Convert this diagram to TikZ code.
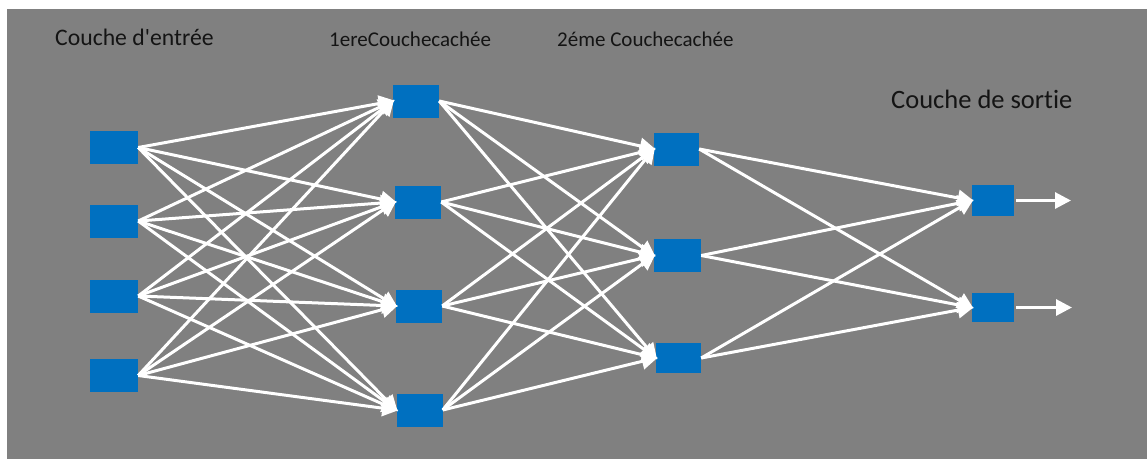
\documentclass[tikz,border=0pt]{standalone}
\usepackage{fontspec}
\setmainfont{Carlito}[Ligatures=NoCommon]
\usetikzlibrary{arrows.meta}
\definecolor{panelgray}{HTML}{808080}
\definecolor{neuronblue}{HTML}{0070C0}
\definecolor{labelink}{HTML}{141414}
\tikzset{
  neuron/.style={fill=neuronblue, draw=none, inner sep=0pt, minimum width=#1, minimum height=33},
  neuron/.default=46,
  link/.style={draw=white, line width=3, -{Triangle[length=16,width=16]}, shorten >=-2},
  layerlabel/.style={text=labelink, anchor=base west, inner sep=0pt},
}
\begin{document}
\begin{tikzpicture}[x=1pt, y=-1pt]
  \useasboundingbox (0,0) rectangle (1147,459);
  \fill[panelgray] (7,9) rectangle (1147,459);

  % layer titles
  \node[layerlabel, font=\fontsize{23.7}{26}\selectfont] (tIn) at (55,45.5) {Couche d\textquotesingle entrée};
  \node[layerlabel, font=\fontsize{21}{24}\selectfont] (tH1) at (329,46) {1ereCouchecachée};
  \node[layerlabel, font=\fontsize{21}{24}\selectfont] (tH2) at (557,46) {2éme Couchecachée};
  \node[layerlabel, font=\fontsize{26.5}{30}\selectfont] (tOut) at (891,108) {Couche de sortie};

  % input layer
  \node[neuron=48] (i1) at (114,147.5) {};
  \node[neuron=48] (i2) at (114,221) {};
  \node[neuron=48] (i3) at (114,296) {};
  \node[neuron=48] (i4) at (114,375.5) {};

  % first hidden layer
  \node[neuron] (a1) at (416,101) {};
  \node[neuron] (a2) at (418,202) {};
  \node[neuron] (a3) at (419,306) {};
  \node[neuron] (a4) at (419.5,410) {};

  % second hidden layer
  \node[neuron=45] (b1) at (676.5,149) {};
  \node[neuron=47] (b2) at (677.5,255.5) {};
  \node[neuron=45, minimum height=30] (b3) at (678.5,358) {};

  % output layer
  \node[neuron=42, minimum height=31] (o1) at (993,200.5) {};
  \node[neuron=42, minimum height=29] (o2) at (993,307.5) {};
  \coordinate (y1) at (1071,200.5);
  \coordinate (y2) at (1072,307.5);

  % fully connected links
  \foreach \s in {i1,i2,i3,i4}
    \foreach \t in {a1,a2,a3,a4}
      \draw[link] (\s.east) -- (\t.west);
  \foreach \s in {a1,a2,a3,a4}
    \foreach \t in {b1,b2,b3}
      \draw[link] (\s.east) -- (\t.west);
  \foreach \s in {b1,b2,b3}
    \foreach \t in {o1,o2}
      \draw[link] (\s.east) -- (\t.west);

  % outputs
  \draw[link, shorten >=0, shorten <=2] (o1.east) -- (y1);
  \draw[link, shorten >=0, shorten <=2] (o2.east) -- (y2);
\end{tikzpicture}
\end{document}
